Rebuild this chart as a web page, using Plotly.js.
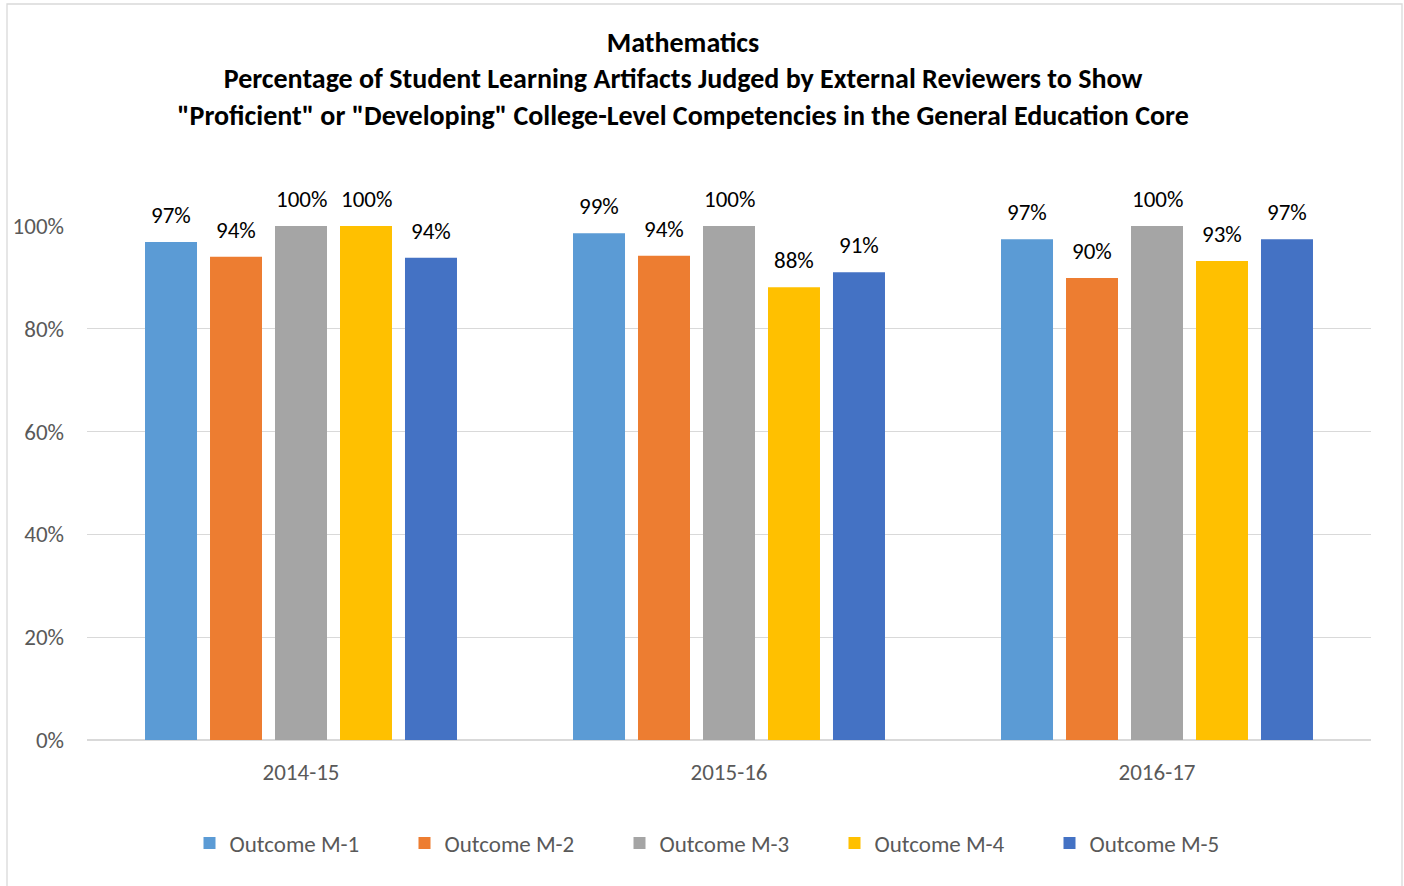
<!DOCTYPE html>
<html>
<head>
<meta charset="utf-8">
<script src="https://cdn.plot.ly/plotly-3.0.1.min.js"></script>
<style>html,body{margin:0;padding:0;background:#fff;}#chart{width:1404px;height:886px;}</style>
</head>
<body>
<div id="chart"></div>
<script>
const years = ["2014-15", "2015-16", "2016-17"];
const seriesNames = ["Outcome M-1", "Outcome M-2", "Outcome M-3", "Outcome M-4", "Outcome M-5"];
const m1 = [0.969, 0.986, 0.974];
const m2 = [0.940, 0.942, 0.899];
const m3 = [1.000, 1.000, 1.000];
const m4 = [1.000, 0.881, 0.932];
const m5 = [0.938, 0.910, 0.974];
const seriesValues = [m1, m2, m3, m4, m5];
const colors = ["#5B9BD5", "#ED7D31", "#A5A5A5", "#FFC000", "#4472C4"];
const yTickVals = [0, 0.2, 0.4, 0.6, 0.8, 1.0];
const yTickText = ["0%", "20%", "40%", "60%", "80%", "100%"];

const FONT = "Carlito, Calibri, 'Liberation Sans Narrow', 'DejaVu Sans Condensed', sans-serif";

const traces = seriesValues.map((vals, i) => ({
  type: "bar",
  name: seriesNames[i],
  x: years,
  y: vals,
  marker: {color: colors[i]},
  hoverinfo: "skip"
}));

const slotPx = 65;
const annotations = [];
seriesValues.forEach((vals, i) => {
  vals.forEach((v, j) => {
    annotations.push({
      x: years[j], y: v, xref: "x", yref: "y",
      text: Math.round(v * 100) + "%",
      showarrow: false,
      xanchor: "center", yanchor: "bottom",
      xshift: (i - 2) * slotPx,
      yshift: 11,
      font: {family: FONT, size: 23, color: "#000000"}
    });
  });
});

const layout = {
  width: 1404, height: 886,
  paper_bgcolor: "#ffffff", plot_bgcolor: "#ffffff",
  margin: {l: 87, r: 33, t: 226, b: 146},
  font: {family: FONT, color: "#595959"},
  title: {
    text: "<b>Mathematics</b><br><b>Percentage of Student Learning Artifacts Judged by External Reviewers to Show</b><br><b>\"Proficient\" or \"Developing\" College-Level Competencies in the General Education Core</b>",
    font: {family: FONT, size: 28, color: "#000000"},
    x: 683 / 1404, xref: "container", xanchor: "center",
    y: 1 - 52 / 886, yref: "container", yanchor: "top"
  },
  barmode: "group",
  bargap: 0.2407,
  bargroupgap: 0.2,
  xaxis: {
    type: "category",
    showgrid: false, zeroline: false, showline: false,
    ticks: "", ticklabelstandoff: 16,
    tickfont: {family: FONT, size: 23, color: "#595959"}
  },
  yaxis: {
    range: [0, 1],
    tickvals: yTickVals, ticktext: yTickText,
    showgrid: true, gridcolor: "#D9D9D9", gridwidth: 1.3,
    zeroline: true, zerolinecolor: "#D9D9D9", zerolinewidth: 1.3,
    showline: false, ticks: "", ticklabelstandoff: 22,
    tickfont: {family: FONT, size: 23, color: "#595959"}
  },
  showlegend: true,
  legend: {
    orientation: "h",
    xref: "container", x: 727 / 1404, xanchor: "center",
    yref: "container", y: 1 - 843 / 886, yanchor: "middle",
    entrywidth: 170, entrywidthmode: "pixels",
    font: {family: FONT, size: 23, color: "#595959"},
    itemclick: false
  },
  shapes: [{
    type: "rect", xref: "paper", yref: "paper",
    x0: (7 - 87) / 1284, x1: (1402 - 87) / 1284,
    y0: -0.35, y1: (740 - 4) / 514,
    line: {color: "#D9D9D9", width: 1.3}, fillcolor: "rgba(0,0,0,0)", layer: "below"
  }],
  annotations: annotations
};

Plotly.newPlot("chart", traces, layout, {displayModeBar: false, staticPlot: true});
</script>
</body>
</html>
